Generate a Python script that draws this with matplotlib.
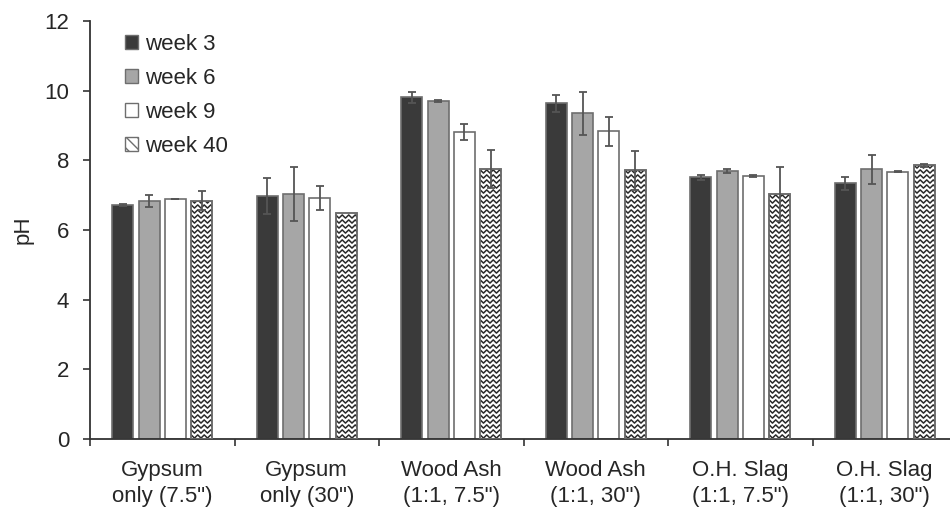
import matplotlib
matplotlib.use('Agg')
import matplotlib.pyplot as plt
import matplotlib.patches as mpatches
import numpy as np

plt.rcParams['font.family'] = ['Liberation Sans', 'DejaVu Sans']

# --- data: soil pH by amendment and sampling week ---
treatments = ['Gypsum\nonly (7.5")', 'Gypsum\nonly (30")', 'Wood Ash\n(1:1, 7.5")',
              'Wood Ash\n(1:1, 30")', 'O.H. Slag\n(1:1, 7.5")', 'O.H. Slag\n(1:1, 30")']
weeks = ['week 3', 'week 6', 'week 9', 'week 40']

ph_w3  = [6.72, 6.98, 9.81, 9.64, 7.51, 7.34]
ph_w6  = [6.83, 7.03, 9.70, 9.35, 7.69, 7.74]
ph_w9  = [6.89, 6.92, 8.81, 8.83, 7.55, 7.67]
ph_w40 = [6.84, 6.48, 7.75, 7.72, 7.03, 7.86]

err_w3  = [0.04, 0.52, 0.15, 0.24, 0.07, 0.19]
err_w6  = [0.17, 0.77, 0.03, 0.61, 0.05, 0.42]
err_w9  = [0.01, 0.34, 0.22, 0.42, 0.04, 0.01]
err_w40 = [0.28, 0.00, 0.55, 0.56, 0.78, 0.04]

values = [ph_w3, ph_w6, ph_w9, ph_w40]
errors = [err_w3, err_w6, err_w9, err_w40]

DARK  = '#3a3a3a'
MID   = '#a6a6a6'
EDGE  = '#6e6e6e'
ERR   = '#555555'
TXT   = '#262626'
FS    = 16
faces = [DARK, MID, 'white', 'white']

fig = plt.figure(figsize=(9.5, 5.14), dpi=100)
ax = fig.add_axes([90 / 950, 1 - 439 / 514, 867 / 950, 418 / 514])

x = np.arange(len(treatments))
bar_w = 0.145
step = 0.182
offsets = (np.arange(4) - 1.5) * step

bar_sets = []
for k in range(4):
    bars = ax.bar(x + offsets[k], values[k], width=bar_w, color=faces[k],
                  edgecolor=EDGE, linewidth=1.2, zorder=2)
    bar_sets.append(bars)
    e = np.array(errors[k])
    show = e > 0
    ax.errorbar((x + offsets[k])[show], np.array(values[k])[show], yerr=e[show],
                fmt='none', ecolor=ERR, elinewidth=1.3, capsize=3.2,
                capthick=1.3, zorder=3)

ax.set_xlim(-0.5, len(treatments) - 0.5)
ax.set_ylim(0, 12)

# zigzag fill for the week 40 bars, clipped to each bar
px_x = 867 / (ax.get_xlim()[1] - ax.get_xlim()[0])
px_y = 418 / 12
period = 6.5 / px_x
amp = 1.6 / px_y
row_gap = 5.0 / px_y
for bar in bar_sets[3]:
    x0, w, h = bar.get_x(), bar.get_width(), bar.get_height()
    n = int(w / (period / 2)) + 4
    zx = x0 - period + np.arange(n) * period / 2
    zz = np.where(np.arange(n) % 2 == 0, amp, -amp)
    for yy in np.arange(row_gap / 2, h, row_gap):
        ln, = ax.plot(zx, yy + zz, color='#2a2a2a', lw=1.1, zorder=2.5)
        ln.set_clip_path(bar)
    # redraw outline on top of the pattern
    ax.add_patch(mpatches.Rectangle((x0, 0), w, h, fill=False,
                                    edgecolor=EDGE, linewidth=1.2, zorder=2.6))

# axes styling
for s in ['top', 'right']:
    ax.spines[s].set_visible(False)
ax.spines['left'].set_color('#333333')
ax.spines['bottom'].set_color('#333333')
ax.spines['left'].set_linewidth(1.3)
ax.spines['bottom'].set_linewidth(1.3)

ax.set_yticks(np.arange(0, 13, 2))
ax.tick_params(axis='y', direction='out', length=5, width=1.2, color='#333333',
               labelsize=FS, labelcolor=TXT, pad=10)

ax.set_xticks(x)
ax.set_xticklabels(treatments)
ax.set_xticks(np.arange(-0.5, len(treatments), 1.0), minor=True)
ax.tick_params(axis='x', which='major', length=0, labelsize=FS,
               labelcolor=TXT, pad=15)
ax.tick_params(axis='x', which='minor', direction='out', length=5, width=1.2,
               color='#333333')
for lbl in ax.get_xticklabels():
    lbl.set_linespacing(1.35)

ax.set_ylabel('pH', fontsize=FS, color=TXT, labelpad=8)

handles = [mpatches.Patch(facecolor=DARK, edgecolor=EDGE, label=weeks[0]),
           mpatches.Patch(facecolor=MID, edgecolor=EDGE, label=weeks[1]),
           mpatches.Patch(facecolor='white', edgecolor=EDGE, label=weeks[2]),
           mpatches.Patch(facecolor='white', edgecolor=EDGE, hatch='\\\\\\',
                          label=weeks[3])]
leg = ax.legend(handles=handles, loc='upper left', bbox_to_anchor=(0.03, 0.99),
                frameon=False, fontsize=FS, handlelength=0.6, handleheight=0.6,
                handletextpad=0.3, labelspacing=0.58, borderaxespad=0)
for t in leg.get_texts():
    t.set_color(TXT)

fig.savefig('out.png', dpi=100)
